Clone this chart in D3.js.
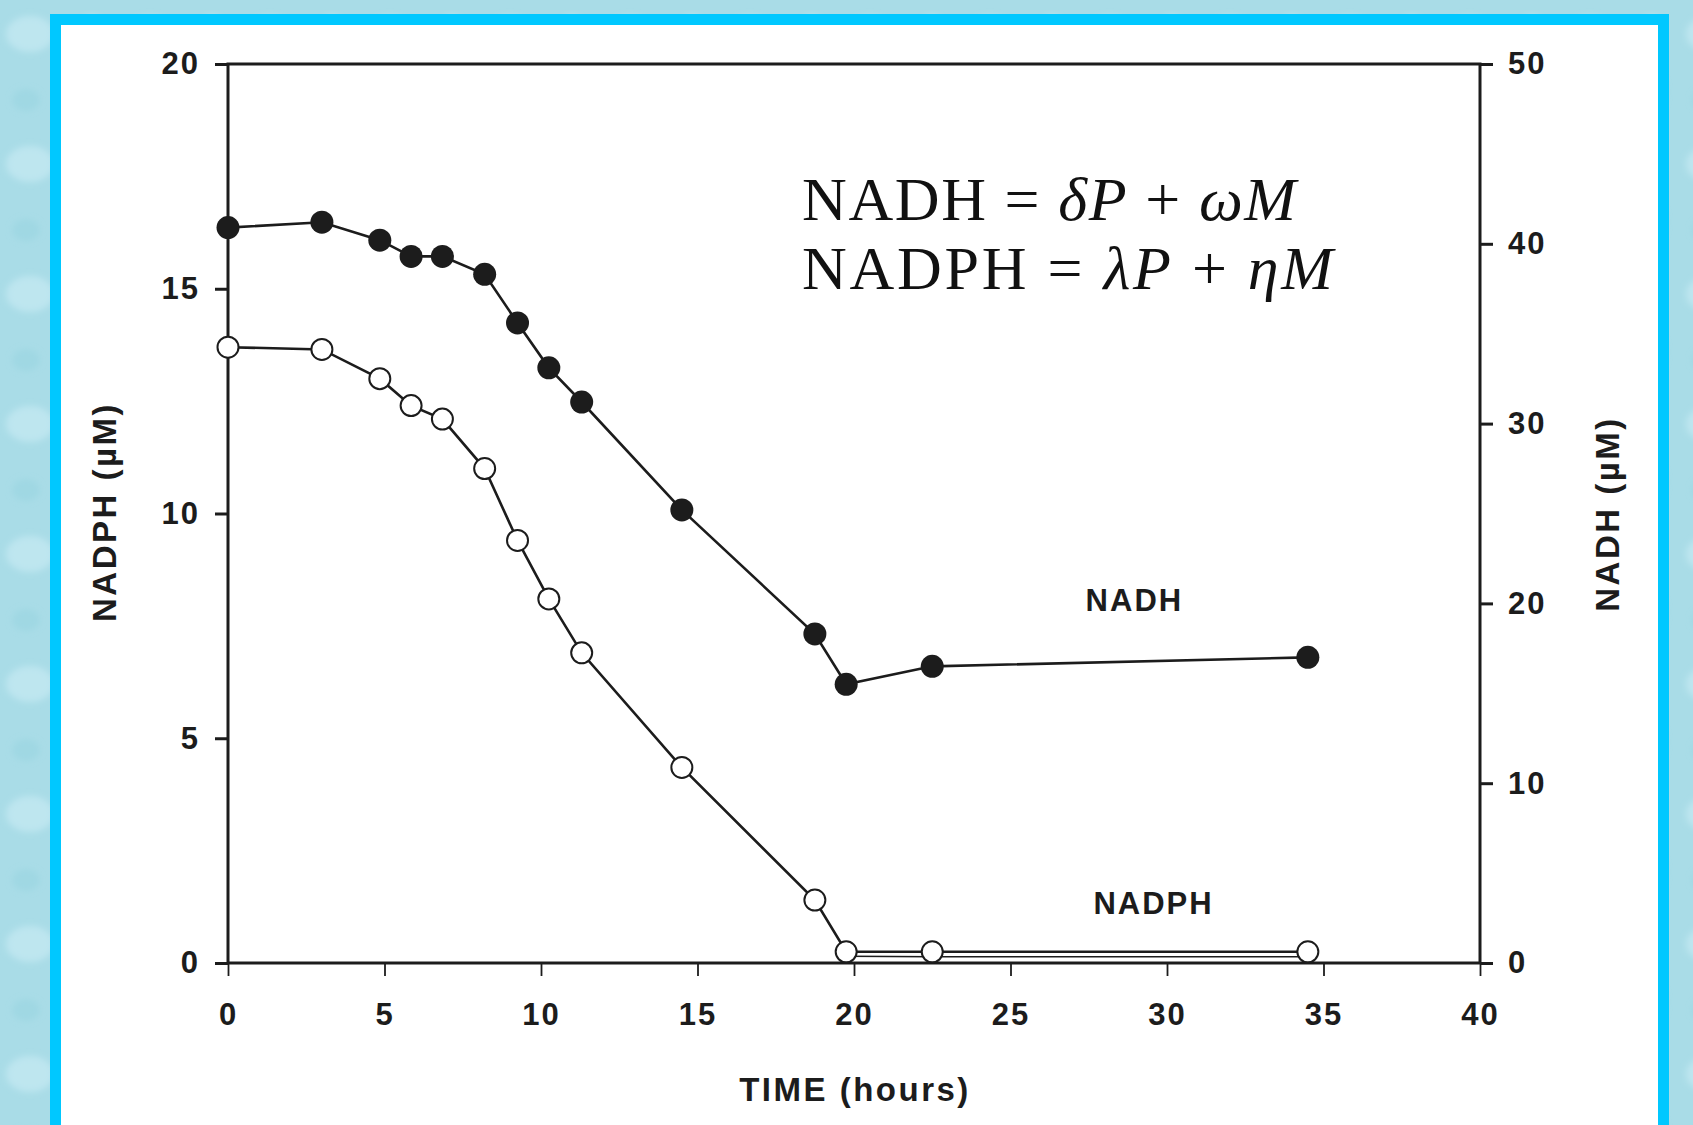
<!DOCTYPE html>
<html>
<head>
<meta charset="utf-8">
<script src="https://cdn.jsdelivr.net/npm/d3@7/dist/d3.min.js"></script>
<style>
  html, body { margin: 0; padding: 0; background: #a8dce7; }
  svg { display: block; }
</style>
</head>
<body>
<svg id="chart" width="1693" height="1125"></svg>
<script>
// values
const timeHours = [0, 3, 4.85, 5.85, 6.85, 8.2, 9.25, 10.25, 11.3, 14.5, 18.75, 19.75, 22.5, 34.5];
const nadh = [40.9, 41.2, 40.2, 39.3, 39.3, 38.3, 35.6, 33.1, 31.2, 25.2, 18.3, 15.5, 16.5, 17.0];
const nadph = [13.7, 13.65, 13.0, 12.4, 12.1, 11.0, 9.4, 8.1, 6.9, 4.35, 1.4, 0.25, 0.25, 0.25];
// faint second trace just under the flat NADPH tail
const nadphTailTime = [19.75, 22.5, 34.5];
const nadphTail = [0.15, 0.14, 0.14];

const xTicks = [0, 5, 10, 15, 20, 25, 30, 35, 40];
const leftTicks = [0, 5, 10, 15, 20];
const rightTicks = [0, 10, 20, 30, 40, 50];

const equationLines = [
  [['NADH', false], [' = ', false], ['δP', true], [' + ', false], ['ωM', true]],
  [['NADPH', false], [' = ', false], ['λP', true], [' + ', false], ['ηM', true]],
];

const W = 1693;
const H = 1125;
const plot = { left: 228, right: 1480, top: 64, bottom: 963 };
const ink = '#1c1c1c';
const sans = "'Liberation Sans', Arial, Helvetica, sans-serif";

const svg = d3.select('#chart');

// watery blue backdrop
const defs = svg.append('defs');
defs.append('filter').attr('id', 'soft')
  .append('feGaussianBlur').attr('stdDeviation', 3);
const pat = defs.append('pattern')
  .attr('id', 'drops')
  .attr('patternUnits', 'userSpaceOnUse')
  .attr('width', 120)
  .attr('height', 130);
pat.append('rect').attr('width', 120).attr('height', 130).attr('fill', '#a9dce7');
const blobs = pat.append('g').attr('filter', 'url(#soft)');
blobs.append('ellipse').attr('cx', 30).attr('cy', 34).attr('rx', 24).attr('ry', 18).attr('fill', '#c3e9f1').attr('opacity', 0.8);
blobs.append('ellipse').attr('cx', 86).attr('cy', 92).attr('rx', 20).attr('ry', 26).attr('fill', '#92d0dd').attr('opacity', 0.55);
blobs.append('ellipse').attr('cx', 92).attr('cy', 24).attr('rx', 10).attr('ry', 8).attr('fill', '#d3f1f6').attr('opacity', 0.8);
blobs.append('ellipse').attr('cx', 26).attr('cy', 100).attr('rx', 14).attr('ry', 11).attr('fill', '#9ad5e1').attr('opacity', 0.6);

svg.append('rect').attr('width', W).attr('height', H).attr('fill', 'url(#drops)');

// cyan frame + white panel
svg.append('rect').attr('x', 50).attr('y', 14).attr('width', 1619).attr('height', 1200).attr('fill', '#00c8ff');
svg.append('rect').attr('x', 61).attr('y', 25).attr('width', 1597).attr('height', 1200).attr('fill', '#ffffff');

const x = d3.scaleLinear().domain([0, 40]).range([plot.left, plot.right]);
const yLeft = d3.scaleLinear().domain([0, 20]).range([plot.bottom, plot.top]);
const yRight = d3.scaleLinear().domain([0, 50]).range([plot.bottom, plot.top]);

function styleTicks(g, width) {
  g.select('.domain').remove();
  g.selectAll('.tick line').attr('stroke', ink).attr('stroke-width', width);
  g.selectAll('.tick text')
    .attr('fill', ink)
    .style('font-family', sans)
    .style('font-weight', 'bold')
    .style('font-size', '31px')
    .style('letter-spacing', '2px');
}

svg.append('g')
  .attr('transform', `translate(0,${plot.bottom})`)
  .call(d3.axisBottom(x).tickValues(xTicks).tickSize(13).tickSizeOuter(0).tickPadding(27))
  .call(g => styleTicks(g, 1.8));

svg.append('g')
  .attr('transform', `translate(${plot.left},0)`)
  .call(d3.axisLeft(yLeft).tickValues(leftTicks).tickSize(13).tickSizeOuter(0).tickPadding(15))
  .call(g => styleTicks(g, 3));

svg.append('g')
  .attr('transform', `translate(${plot.right},0)`)
  .call(d3.axisRight(yRight).tickValues(rightTicks).tickSize(13).tickSizeOuter(0).tickPadding(15))
  .call(g => styleTicks(g, 3));

// box
svg.append('rect')
  .attr('x', plot.left)
  .attr('y', plot.top)
  .attr('width', plot.right - plot.left)
  .attr('height', plot.bottom - plot.top)
  .attr('fill', 'none')
  .attr('stroke', ink)
  .attr('stroke-width', 3);

const nadhPts = timeHours.map((t, i) => ({ t, v: nadh[i] }));
const nadphPts = timeHours.map((t, i) => ({ t, v: nadph[i] }));
const tailPts = nadphTailTime.map((t, i) => ({ t, v: nadphTail[i] }));

const lineRight = d3.line().x(d => x(d.t)).y(d => yRight(d.v));
const lineLeft = d3.line().x(d => x(d.t)).y(d => yLeft(d.v));

svg.append('path').datum(tailPts)
  .attr('d', lineLeft).attr('fill', 'none').attr('stroke', ink).attr('stroke-width', 1.6);

svg.append('path').datum(nadphPts)
  .attr('d', lineLeft).attr('fill', 'none').attr('stroke', ink).attr('stroke-width', 2.6);

svg.append('path').datum(nadhPts)
  .attr('d', lineRight).attr('fill', 'none').attr('stroke', ink).attr('stroke-width', 2.6);

svg.append('g').selectAll('circle')
  .data(nadphPts)
  .join('circle')
  .attr('cx', d => x(d.t))
  .attr('cy', d => yLeft(d.v))
  .attr('r', 10.5)
  .attr('fill', '#fff')
  .attr('stroke', ink)
  .attr('stroke-width', 2);

svg.append('g').selectAll('circle')
  .data(nadhPts)
  .join('circle')
  .attr('cx', d => x(d.t))
  .attr('cy', d => yRight(d.v))
  .attr('r', 11.5)
  .attr('fill', ink);

// series labels
svg.append('text')
  .attr('x', x(27.4))
  .attr('y', yRight(19.6))
  .text('NADH')
  .attr('fill', ink)
  .style('font-family', sans)
  .style('font-weight', 'bold')
  .style('font-size', '31px')
  .style('letter-spacing', '2px');

svg.append('text')
  .attr('x', x(27.65))
  .attr('y', yLeft(1.1))
  .text('NADPH')
  .attr('fill', ink)
  .style('font-family', sans)
  .style('font-weight', 'bold')
  .style('font-size', '31px')
  .style('letter-spacing', '2px');

// axis titles
function title(tx, ty, rot, label) {
  svg.append('text')
    .attr('transform', `translate(${tx},${ty}) rotate(${rot})`)
    .attr('text-anchor', 'middle')
    .attr('fill', ink)
    .style('font-family', sans)
    .style('font-weight', 'bold')
    .style('font-size', '33px')
    .style('letter-spacing', '2.5px')
    .text(label);
}
title(116, 512, -90, 'NADPH (\u00b5M)');
title(1619, 514, -90, 'NADH (\u00b5M)');
title(855, 1101, 0, 'TIME (hours)');

// equations
const eqWidths = [494, 531];
equationLines.forEach((parts, i) => {
  const t = svg.append('text')
    .attr('x', 802)
    .attr('y', 220 + i * 69)
    .attr('textLength', eqWidths[i])
    .attr('lengthAdjust', 'spacing')
    .attr('fill', '#111')
    .style('font-family', "'Liberation Serif', 'Times New Roman', serif")
    .style('font-size', '62px')
    .attr('xml:space', 'preserve');
  parts.forEach(([s, italic]) => {
    t.append('tspan').text(s).style('font-style', italic ? 'italic' : 'normal');
  });
});
</script>
</body>
</html>
